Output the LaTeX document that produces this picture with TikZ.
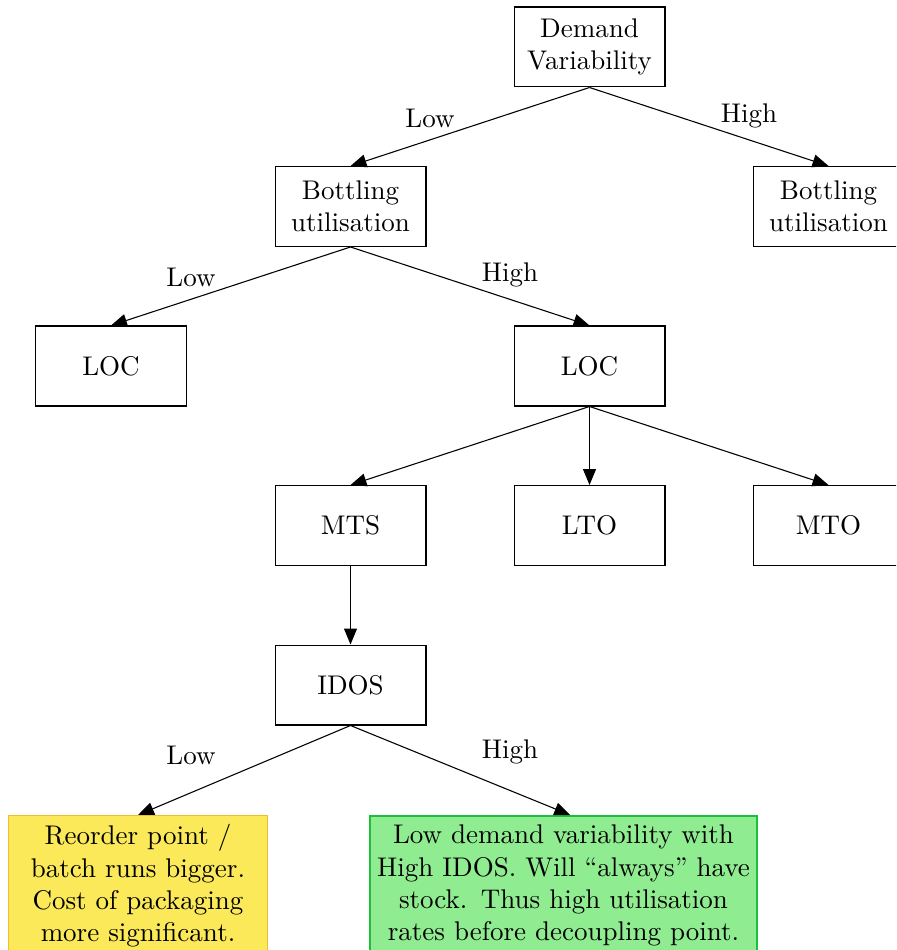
\documentclass[tikz,border=0pt]{standalone}
\usetikzlibrary{arrows.meta}
\definecolor{noteyellow}{RGB}{251,233,90}
\definecolor{noteyellowline}{RGB}{240,190,40}
\definecolor{notegreen}{RGB}{144,236,144}
\definecolor{notegreenline}{RGB}{30,190,60}
\begin{document}
\begin{tikzpicture}[
  x=0.37037pt, y=-0.37037pt,
  decision/.style={draw, align=center, minimum width=55.9pt, minimum height=29.6pt, inner sep=3.33pt},
  yellownote/.style={draw=noteyellowline, fill=noteyellow, align=center, text width=93.6pt, inner xsep=1pt, inner ysep=3.33pt, anchor=north},
  greennote/.style={draw=notegreenline, fill=notegreen, align=center, text width=141.3pt, inner xsep=1pt, inner ysep=3.33pt, anchor=north, line width=0.75pt},
  branch/.style={-{Triangle[length=5.9pt,width=4.8pt]}},
  branchlabel/.style={inner sep=0pt}
]
\useasboundingbox (0,0) rectangle (896,950);
\clip (0,0) rectangle (896,950);

% decision nodes
\node[decision] (dv)   at (589.5,47)    {Demand\\Variability};
\node[decision] (bul)  at (350.5,206.5) {Bottling\\utilisation};
\node[decision] (bur)  at (828.5,206.5) {Bottling\\utilisation};
\node[decision] (locl) at (111,366)     {LOC};
\node[decision] (locr) at (589.5,366)   {LOC};
\node[decision] (mts)  at (350.5,525.5) {MTS};
\node[decision] (lto)  at (589.5,525.5) {LTO};
\node[decision] (mto)  at (828.5,525.5) {MTO};
\node[decision] (idos) at (350.5,685)   {IDOS};

% outcome notes
\node[yellownote] (reorder) at (138,815) {Reorder point /\\batch runs bigger.\\Cost of packaging\\more significant.};
\node[greennote] (stock) at (563.5,815) {Low demand variability with\\High IDOS. Will ``always'' have\\stock. Thus high utilisation\\rates before decoupling point.};

% connectors
\draw[branch] (dv.south) -- (bul.north);
\draw[branch] (dv.south) -- (bur.north);
\draw[branch] (bul.south) -- (locl.north);
\draw[branch] (bul.south) -- (locr.north);
\draw[branch] (locr.south) -- (mts.north);
\draw[branch] (locr.south) -- (lto.north);
\draw[branch] (locr.south) -- (mto.north);
\draw[branch] (mts.south) -- (idos.north);
\draw[branch] (idos.south) -- (reorder.north);
\draw[branch] (idos.south) -- ([xshift=2.5pt]stock.north);

% branch labels
\node[branchlabel] (l1) at (430,118) {Low};
\node[branchlabel] (h1) at (749,116) {High};
\node[branchlabel] (l2) at (191,277) {Low};
\node[branchlabel] (h2) at (510,275) {High};
\node[branchlabel] (l3) at (191,755) {Low};
\node[branchlabel] (h3) at (510,752) {High};
\end{tikzpicture}
\end{document}
